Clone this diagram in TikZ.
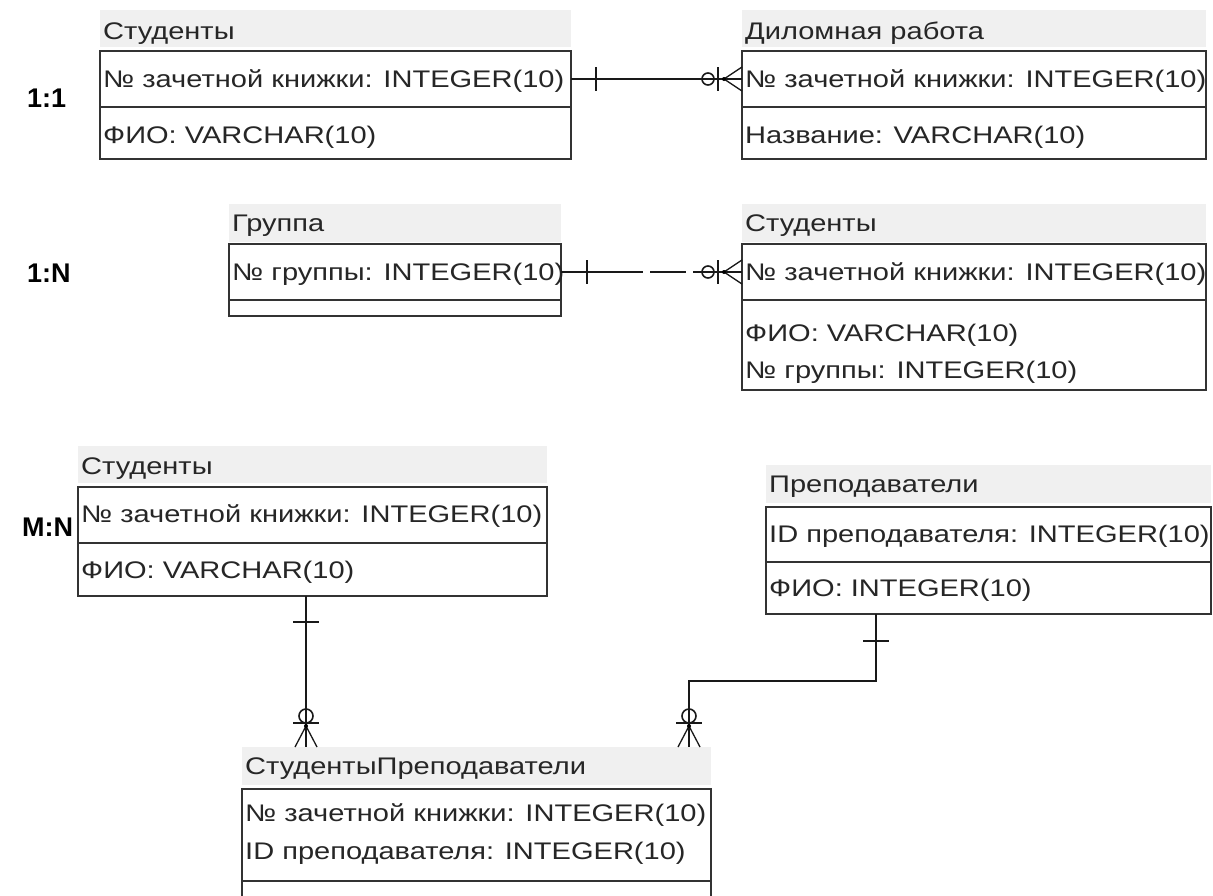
\documentclass[tikz,border=0pt]{standalone}
\usepackage{fontspec}
\setmainfont{Liberation Sans}[FakeStretch=1.21]
\newfontfamily\labelfont{Liberation Sans}
\usetikzlibrary{calc}
\definecolor{hdrfill}{HTML}{F0F0F0}
\definecolor{edge}{HTML}{333333}
\definecolor{txt}{HTML}{262626}
\tikzset{
  hdr/.style={fill=hdrfill,draw=none,anchor=north west,inner sep=0pt,outer sep=0pt},
  sec/.style={draw=edge,line width=1.6pt,anchor=north west,inner sep=0pt,outer sep=0pt},
  rowtext/.style={anchor=base west,inner sep=0pt,text=txt,font=\fontsize{24}{30}\selectfont},
  reltext/.style={anchor=base west,inner sep=0pt,text=black,font=\labelfont\bfseries\fontsize{27}{30}\selectfont},
  conn/.style={draw=black!90,line width=1.6pt},
  thin/.style={draw=black!90,line width=1.3pt},
  crowW/.pic={
    \draw[thin] (-18,0) -- (0,-12) (-18,0) -- (0,12);
    \draw[conn] (-24,-12) -- (-24,12);
    \draw[conn] (-34,0) circle[radius=6];
    \fill[black] (-18,0) circle[radius=2];
  },
  crowN/.pic={
    \draw[thin] (0,-21) -- (-11,0) (0,-21) -- (11,0);
    \draw[conn] (-13,-24) -- (13,-24);
    \draw[conn] (0,-31) circle[radius=7];
    \fill[black] (0,-21) circle[radius=2];
  },
  barV/.pic={\draw[conn] (0,-12) -- (0,12);},
  barH/.pic={\draw[conn] (-13,0) -- (13,0);}
}
\begin{document}
\begin{tikzpicture}[x=1pt,y=-1pt]
\useasboundingbox (0,0) rectangle (1213,895);
\fill[white] (0,0) rectangle (1213,895);

% ---------- 1:1 ----------
\node[reltext] (l11) at (27,107) {1:1};
% Студенты (1)
\node[hdr,minimum width=471pt,minimum height=37pt] (e1h) at (100,10) {};
\node[rowtext] (e1t) at (103,39) {Студенты};
\node[sec,minimum width=471pt,minimum height=56pt] (e1s1) at (100,51) {};
\node[sec,minimum width=471pt,minimum height=52pt] (e1s2) at (100,107) {};
\node[rowtext] (e1r1) at (103,87) {№ зачетной книжки: INTEGER(10)};
\node[rowtext] (e1r2) at (103,143) {ФИО: VARCHAR(10)};
% Диломная работа
\node[hdr,minimum width=464pt,minimum height=37pt] (e2h) at (742,10) {};
\node[rowtext] (e2t) at (745,39) {Диломная работа};
\node[sec,minimum width=464pt,minimum height=56pt] (e2s1) at (742,51) {};
\node[sec,minimum width=464pt,minimum height=52pt] (e2s2) at (742,107) {};
\node[rowtext] (e2r1) at (745,87) {№ зачетной книжки: INTEGER(10)};
\node[rowtext] (e2r2) at (745,143) {Название: VARCHAR(10)};
% connector 1
\draw[conn] (e1s1.east) -- (e2s1.west);
\pic at ($(e1s1.east)+(25,0)$) {barV};
\pic at (e2s1.west) {crowW};

% ---------- 1:N ----------
\node[reltext] (l1n) at (27,282) {1:N};
% Группа
\node[hdr,minimum width=332pt,minimum height=38pt] (e3h) at (229,204) {};
\node[rowtext] (e3t) at (232,231) {Группа};
\node[sec,minimum width=332pt,minimum height=56pt] (e3s1) at (229,244) {};
\node[sec,minimum width=332pt,minimum height=16pt] (e3s2) at (229,300) {};
\node[rowtext] (e3r1) at (232,280) {№ группы: INTEGER(10)};
% Студенты (2)
\node[hdr,minimum width=464pt,minimum height=38pt] (e4h) at (742,204) {};
\node[rowtext] (e4t) at (745,231) {Студенты};
\node[sec,minimum width=464pt,minimum height=56pt] (e4s1) at (742,244) {};
\node[sec,minimum width=464pt,minimum height=90pt] (e4s2) at (742,300) {};
\node[rowtext] (e4r1) at (745,280) {№ зачетной книжки: INTEGER(10)};
\node[rowtext] (e4r2) at (745,341) {ФИО: VARCHAR(10)};
\node[rowtext] (e4r3) at (745,378) {№ группы: INTEGER(10)};
% connector 2 (dashed)
\draw[conn,dash pattern=on 82pt off 7pt on 36pt off 7pt on 300pt] (e3s1.east) -- (e4s1.west);
\pic at ($(e3s1.east)+(26,0)$) {barV};
\pic at (e4s1.west) {crowW};

% ---------- M:N ----------
\node[reltext] (lmn) at (22,536) {M:N};
% Студенты (3)
\node[hdr,minimum width=469pt,minimum height=37pt] (e5h) at (78,446) {};
\node[rowtext] (e5t) at (81,474) {Студенты};
\node[sec,minimum width=469pt,minimum height=56pt] (e5s1) at (78,487) {};
\node[sec,minimum width=469pt,minimum height=53pt] (e5s2) at (78,543) {};
\node[rowtext] (e5r1) at (81,522) {№ зачетной книжки: INTEGER(10)};
\node[rowtext] (e5r2) at (81,578) {ФИО: VARCHAR(10)};
% Преподаватели
\node[hdr,minimum width=445pt,minimum height=38pt] (e6h) at (766,465) {};
\node[rowtext] (e6t) at (769,492) {Преподаватели};
\node[sec,minimum width=445pt,minimum height=55pt] (e6s1) at (766,507) {};
\node[sec,minimum width=445pt,minimum height=52pt] (e6s2) at (766,562) {};
\node[rowtext] (e6r1) at (769,542) {ID преподавателя: INTEGER(10)};
\node[rowtext] (e6r2) at (769,596) {ФИО: INTEGER(10)};
% СтудентыПреподаватели
\node[hdr,minimum width=469pt,minimum height=38pt] (e7h) at (242,747) {};
\node[rowtext] (e7t) at (245,774) {СтудентыПреподаватели};
\node[sec,minimum width=469pt,minimum height=92pt] (e7s1) at (242,789) {};
\node[sec,minimum width=469pt,minimum height=40pt] (e7s2) at (242,881) {};
\node[rowtext] (e7r1) at (245,821) {№ зачетной книжки: INTEGER(10)};
\node[rowtext] (e7r2) at (245,859) {ID преподавателя: INTEGER(10)};
% connector 3
\coordinate (c3) at (306,0);
\draw[conn] (e5s2.south -| c3) -- (e7h.north -| c3);
\pic at ($(e5s2.south -| c3)+(0,26)$) {barH};
\pic at (e7h.north -| c3) {crowN};
% connector 4
\coordinate (c4a) at (876,681);
\coordinate (c4b) at (689,681);
\draw[conn] (e6s2.south -| c4a) -- (c4a) -- (c4b) -- (e7h.north -| c4b);
\pic at ($(e6s2.south -| c4a)+(0,27)$) {barH};
\pic at (e7h.north -| c4b) {crowN};
\end{tikzpicture}
\end{document}
